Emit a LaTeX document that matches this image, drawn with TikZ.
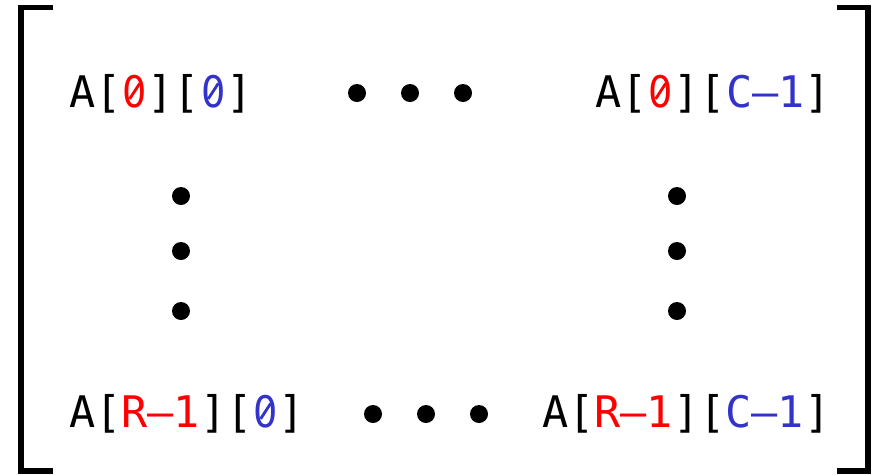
\documentclass[tikz,border=0pt]{standalone}
\usepackage{fontspec}
\usepackage{graphicx}
\usepackage{xcolor}
\usepackage{tikz}
\usetikzlibrary{positioning}
\newfontfamily\matfont{DejaVu Sans Mono}
\newfontfamily\zerofont{DejaVu Sans}[FakeStretch=0.88]
\definecolor{rowred}{HTML}{FF0000}
\definecolor{colblue}{HTML}{3333CC}
\tikzset{
  entry/.style={anchor=base west, inner sep=0pt, font=\matfont\fontsize{43.5}{50}\selectfont},
  bracket/.style={line width=5.5pt, line join=miter},
  dotfill/.style={fill=black}
}
\newlength\cellw
% slashed zero, one mono cell wide
\newcommand{\szero}{\settowidth{\cellw}{0}%
  \makebox[\cellw]{\zerofont 0}\hspace{-\cellw}%
  \makebox[\cellw]{\raisebox{0.17em}{\rotatebox{57}{\rule{0.42em}{0.065em}}}}}
\newcommand{\ri}[1]{\textcolor{rowred}{#1}}
\newcommand{\ci}[1]{\textcolor{colblue}{#1}}
\begin{document}
\begin{tikzpicture}[x=1pt,y=-1pt]
            \useasboundingbox (0,0) rectangle (875,475);
            % brackets
            \draw[bracket] (53,7.5) -- (21,7.5) -- (21,471) -- (53,471);
            \draw[bracket] (837,7.5) -- (868,7.5) -- (868,471) -- (837,471);
            % corner entries
            \node[entry] (a00) at (69,107) {A[\ri{\szero}][\ci{\szero}]};
            \node[entry] (a0c) at (595,107) {A[\ri{\szero}][\ci{C–1}]};
            \node[entry] (ar0) at (69,427) {A[\ri{R–1}][\ci{\szero}]};
            \node[entry] (arc) at (542,427) {A[\ri{R–1}][\ci{C–1}]};
            % dots
            \foreach \x in {357,410,463} \fill[dotfill] (\x,93) circle (9);
            \foreach \x in {373,426,479} \fill[dotfill] (\x,414) circle (9);
            \foreach \y in {196,251,311} {
                \fill[dotfill] (181,\y) circle (9);
                \fill[dotfill] (677,\y) circle (9);
            }
        \end{tikzpicture}
\end{document}
